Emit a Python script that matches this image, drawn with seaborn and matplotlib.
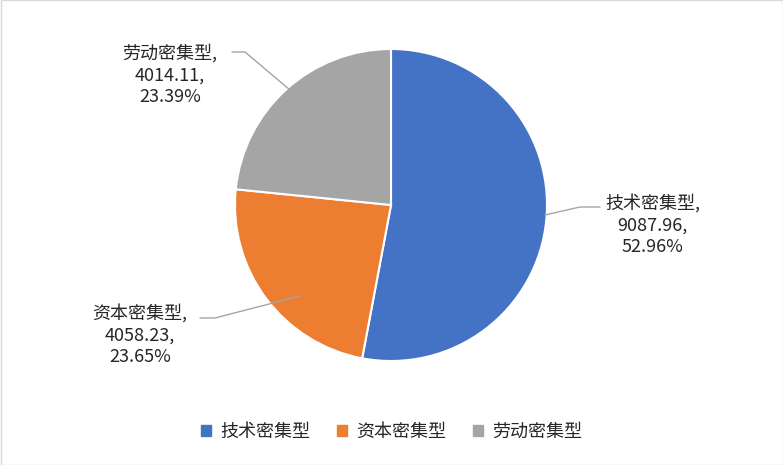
import matplotlib
matplotlib.use("Agg")
import matplotlib.pyplot as plt
import seaborn as sns
from matplotlib.patches import Rectangle

categories = ["技术密集型", "资本密集型", "劳动密集型"]
values = [9087.96, 4058.23, 4014.11]
percents = ["52.96%", "23.65%", "23.39%"]
colors = ["#4472C4", "#ED7D31", "#A5A5A5"]

sns.set_theme(style="white")
plt.rcParams['font.family'] = ['Noto Sans CJK SC', 'DejaVu Sans']

W, H = 783, 465
fig = plt.figure(figsize=(W/100, H/100), dpi=100)
cx, cy, r = 391, 205, 156
ax = fig.add_axes([(cx-r)/W, (H-cy-r)/H, 2*r/W, 2*r/H])
ax.pie(values, colors=colors, startangle=90, counterclock=False,
       wedgeprops=dict(edgecolor="white", linewidth=1.5))
ax.set_xlim(-1, 1); ax.set_ylim(-1, 1)
ax.set_aspect("equal")

def px(x, y):
    return x/W, 1-y/H

lbl = [
    ((605, 225), "left", [(545, 215), (580, 207), (600, 207)]),
    ((140, 335), "center", [(300, 296), (215, 318), (200, 318)]),
    ((170, 75), "center", [(290, 90), (245, 52), (232, 52)]),
]
for (pos, ha, line), c, v, p in zip(lbl, categories, values, percents):
    xs = [a/W for a, b in line]; ys = [1-b/H for a, b in line]
    fig.add_artist(plt.Line2D(xs, ys, color="#A5A5A5", lw=1))
    fig.text(*px(*pos), f"{c},\n{v:.2f},\n{p}", ha="center" if ha=="center" else "left",
             va="center", fontsize=13, color="#262626", linespacing=1.25,
             multialignment="center")

handles = [Rectangle((0, 0), 1, 1, color=c) for c in colors]
fig.legend(handles, categories, loc="center", bbox_to_anchor=(0.5, 1-432/H), ncol=3,
           frameon=False, fontsize=13, handlelength=0.55, handleheight=0.55,
           columnspacing=1.5, handletextpad=0.5, labelcolor="#262626")

fig.add_artist(Rectangle((0.5/W, 0.5/H), 1-1/W, 1-1/H, transform=fig.transFigure,
                         fill=False, edgecolor="#D9D9D9", lw=1))
fig.savefig("out.png", dpi=100)
